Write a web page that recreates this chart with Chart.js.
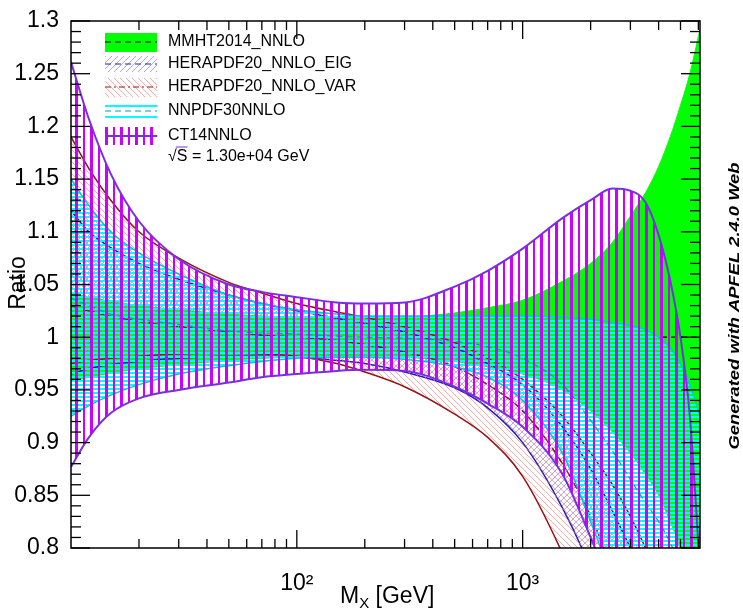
<!DOCTYPE html>
<html>
<head>
<meta charset="utf-8">
<script src="https://cdn.jsdelivr.net/npm/chart.js@4.4.1/dist/chart.umd.min.js"></script>
<style>
html,body{margin:0;padding:0;background:#fff;}
#wrap{width:743px;height:612px;position:relative;}
</style>
</head>
<body>
<div id="wrap"><canvas id="chart" width="743" height="612"></canvas></div>
<script>
// mass points (GeV) shared by all bands
const massGrid = [10, 12, 15, 20, 30, 50, 70, 100, 150, 200, 300, 500, 700, 1000, 1500, 2000, 2500, 3000, 3500, 4000, 4500, 5000, 5500, 6100];

const mmhtCentral = [1, 1, 1, 1, 1, 1, 1, 1, 1, 1, 1, 1, 1, 1, 1, 1, 1, 1, 1, 1, 1, 1, 1, 1];
const mmhtUpper = [1.042, 1.038, 1.034, 1.030, 1.026, 1.022, 1.020, 1.019, 1.018, 1.018, 1.019, 1.023, 1.028, 1.035, 1.053, 1.070, 1.090, 1.115, 1.137, 1.162, 1.190, 1.220, 1.250, 1.292];
const mmhtLower = [0.958, 0.962, 0.966, 0.970, 0.974, 0.978, 0.980, 0.981, 0.982, 0.982, 0.981, 0.977, 0.972, 0.965, 0.950, 0.930, 0.910, 0.890, 0.870, 0.850, 0.825, 0.800, 0.770, 0.740];

const herapdfCentral = [1.030, 1.025, 1.020, 1.015, 1.010, 1.005, 1.002, 1.000, 0.997, 0.993, 0.986, 0.972, 0.955, 0.930, 0.880, 0.830, 0.780, 0.740, 0.700, 0.670, 0.640, 0.610, 0.580, 0.550];
const eigUpper = [1.120, 1.100, 1.085, 1.070, 1.055, 1.040, 1.032, 1.025, 1.018, 1.013, 1.005, 0.990, 0.975, 0.955, 0.915, 0.875, 0.835, 0.800, 0.770, 0.740, 0.710, 0.680, 0.650, 0.620];
const eigLower = [0.965, 0.970, 0.974, 0.977, 0.980, 0.982, 0.982, 0.981, 0.978, 0.975, 0.967, 0.952, 0.933, 0.900, 0.838, 0.780, 0.720, 0.670, 0.630, 0.600, 0.570, 0.540, 0.510, 0.480];
const varUpper = [1.190, 1.160, 1.130, 1.100, 1.075, 1.052, 1.042, 1.032, 1.024, 1.019, 1.010, 0.995, 0.980, 0.960, 0.925, 0.890, 0.860, 0.830, 0.800, 0.770, 0.740, 0.710, 0.680, 0.650];
const varLower = [0.975, 0.978, 0.980, 0.982, 0.984, 0.985, 0.984, 0.982, 0.975, 0.967, 0.953, 0.927, 0.905, 0.868, 0.795, 0.730, 0.680, 0.640, 0.600, 0.570, 0.540, 0.510, 0.480, 0.450];

const nnpdfCentral = [1.037, 1.030, 1.022, 1.017, 1.012, 1.006, 1.004, 1.003, 1.001, 1.000, 0.999, 0.996, 0.991, 0.980, 0.955, 0.921, 0.892, 0.865, 0.843, 0.825, 0.805, 0.782, 0.757, 0.727];
const nnpdfUpper = [1.150, 1.125, 1.100, 1.080, 1.060, 1.040, 1.032, 1.026, 1.022, 1.020, 1.020, 1.020, 1.020, 1.020, 1.019, 1.017, 1.014, 1.011, 1.007, 1.000, 0.990, 0.975, 0.955, 0.925];
const nnpdfLower = [0.925, 0.935, 0.945, 0.955, 0.965, 0.973, 0.977, 0.980, 0.981, 0.981, 0.979, 0.972, 0.962, 0.940, 0.890, 0.825, 0.770, 0.720, 0.680, 0.650, 0.620, 0.590, 0.560, 0.530];

const ct14Upper = [1.261, 1.207, 1.155, 1.110, 1.074, 1.050, 1.043, 1.038, 1.033, 1.032, 1.033, 1.048, 1.063, 1.084, 1.113, 1.130, 1.141, 1.139, 1.128, 1.097, 1.054, 1.000, 0.925, 0.780];
const ct14Lower = [0.877, 0.905, 0.928, 0.942, 0.950, 0.957, 0.962, 0.965, 0.968, 0.969, 0.968, 0.953, 0.937, 0.915, 0.870, 0.810, 0.760, 0.720, 0.690, 0.660, 0.630, 0.600, 0.570, 0.540];

const xTicks = [100, 1000];
const xTickLabels = ['10\u00B2', '10\u00B3'];
const xMinorTicks = [20, 30, 40, 50, 60, 70, 80, 90, 200, 300, 400, 500, 600, 700, 800, 900, 2000, 3000, 4000, 5000, 6000];
const yTicks = [0.8, 0.85, 0.9, 0.95, 1, 1.05, 1.1, 1.15, 1.2, 1.25, 1.3];
const yTickLabels = ['0.8', '0.85', '0.9', '0.95', '1', '1.05', '1.1', '1.15', '1.2', '1.25', '1.3'];

const legendNames = ['MMHT2014_NNLO', 'HERAPDF20_NNLO_EIG', 'HERAPDF20_NNLO_VAR', 'NNPDF30NNLO', 'CT14NNLO'];
const energyLabel = '\u221AS = 1.30e+04 GeV';

const FONT = "'Liberation Sans', Arial, sans-serif";
const GREEN = 'rgb(0,255,0)';
const BLUE = 'rgb(30,30,190)';
const DARKRED = 'rgb(150,20,20)';
const CYAN = 'rgb(0,255,255)';
const TEAL = 'rgb(0,160,170)';
const MAGENTA = 'rgb(204,0,255)';
const PURPLE = 'rgb(125,45,225)';

const ctx = document.getElementById('chart').getContext('2d');

function hatch(w, h, fn) {
  const c = document.createElement('canvas');
  c.width = w; c.height = h;
  fn(c.getContext('2d'), w, h);
  return ctx.createPattern(c, 'repeat');
}

const ct14Fill = hatch(15, 4, (g, w, h) => {
  g.fillStyle = MAGENTA;
  g.fillRect(0, 0, 3, h);
  g.fillRect(8, 0, 2, h);
});
const nnpdfFill = hatch(4, 4, (g, w) => {
  g.fillStyle = CYAN;
  g.fillRect(0, 0, w, 2);
});
const eigFill = hatch(6, 6, g => {
  g.strokeStyle = 'rgba(110,110,255,0.6)';
  g.lineWidth = 1;
  g.beginPath();
  g.moveTo(-1, 7); g.lineTo(7, -1);
  g.moveTo(-1, 1); g.lineTo(1, -1);
  g.moveTo(5, 7); g.lineTo(7, 5);
  g.stroke();
});
const varFill = hatch(6, 6, g => {
  g.strokeStyle = 'rgba(255,110,110,0.6)';
  g.lineWidth = 1;
  g.beginPath();
  g.moveTo(-1, -1); g.lineTo(7, 7);
  g.moveTo(-1, 5); g.lineTo(1, 7);
  g.moveTo(5, -1); g.lineTo(7, 1);
  g.stroke();
});

function pts(values) {
  return massGrid.map((m, i) => ({ x: m, y: values[i] }));
}

function band(name, order, upper, lower, edge, width, fillStyle) {
  return [
    { label: name + ' up', data: pts(upper), borderColor: edge, borderWidth: width, fill: false, order: order },
    { label: name + ' down', data: pts(lower), borderColor: edge, borderWidth: width, backgroundColor: fillStyle, fill: '-1', order: order }
  ];
}

function central(name, order, values, color, dash) {
  return { label: name, data: pts(values), borderColor: color, borderWidth: 1.2, borderDash: dash, fill: false, order: order };
}

const datasets = [
  central('MMHT', 5, mmhtCentral, '#000', [6, 4]),
  ...band('MMHT', 5, mmhtUpper, mmhtLower, GREEN, 1, GREEN),
  central('EIG', 4, herapdfCentral, BLUE, [6, 4]),
  ...band('EIG', 4, eigUpper, eigLower, BLUE, 1.5, eigFill),
  central('VAR', 3, herapdfCentral, DARKRED, [6, 3, 2, 3]),
  ...band('VAR', 3, varUpper, varLower, DARKRED, 1.5, varFill),
  central('NNPDF', 2, nnpdfCentral, TEAL, [6, 4]),
  ...band('NNPDF', 2, nnpdfUpper, nnpdfLower, 'rgb(0,200,210)', 1.5, nnpdfFill),
  ...band('CT14', 1, ct14Upper, ct14Lower, PURPLE, 2, ct14Fill)
];

function line(c, x1, y1, x2, y2) {
  c.beginPath(); c.moveTo(x1, y1); c.lineTo(x2, y2); c.stroke();
}

const rootFrame = {
  id: 'rootFrame',
  afterDraw(chart) {
    const c = chart.ctx;
    const { left, right, top, bottom } = chart.chartArea;
    const xs = chart.scales.x, ys = chart.scales.y;
    c.save();
    c.strokeStyle = '#000';
    c.lineWidth = 1.5;
    c.strokeRect(left, top, right - left, bottom - top);

    // inner ticks on all four sides
    c.lineWidth = 1.3;
    for (let i = 0; i <= 50; i++) {
      const y = ys.getPixelForValue(0.8 + i * 0.01);
      const len = i % 5 === 0 ? 19 : 10;
      line(c, left, y, left + len, y);
      line(c, right, y, right - len, y);
    }
    xTicks.forEach(v => {
      const x = xs.getPixelForValue(v);
      line(c, x, bottom, x, bottom - 18);
      line(c, x, top, x, top + 18);
    });
    xMinorTicks.forEach(v => {
      const x = xs.getPixelForValue(v);
      line(c, x, bottom, x, bottom - 9);
      line(c, x, top, x, top + 9);
    });

    // axis titles
    c.fillStyle = '#000';
    c.font = '23px ' + FONT;
    c.textBaseline = 'alphabetic';
    c.textAlign = 'left';
    c.fillText('M', 340, 603);
    const mw = c.measureText('M').width;
    c.font = '15px ' + FONT;
    c.fillText('X', 340 + mw, 608);
    const xw = c.measureText('X').width;
    c.font = '23px ' + FONT;
    c.fillText(' [GeV]', 340 + mw + xw, 603);

    c.save();
    c.translate(25, 283);
    c.rotate(-Math.PI / 2);
    c.textAlign = 'center';
    c.fillText('Ratio', 0, 0);
    c.restore();

    c.save();
    c.translate(739, 306);
    c.rotate(-Math.PI / 2);
    c.textAlign = 'center';
    c.font = 'italic bold 15px ' + FONT;
    const tag = 'Generated with APFEL 2.4.0 Web';
    c.scale(287 / c.measureText(tag).width, 1);
    c.fillText(tag, 0, 0);
    c.restore();

    // legend
    const bx = 105, bw = 52;
    const rows = [42, 64, 87, 111, 136];
    // MMHT
    c.fillStyle = GREEN;
    c.fillRect(bx, 33, bw, 19);
    c.lineWidth = 1.2;
    c.strokeStyle = '#000';
    c.setLineDash([6, 4]);
    line(c, bx, rows[0], bx + bw, rows[0]);
    // EIG
    c.fillStyle = eigFill;
    c.fillRect(bx, 56, bw, 16);
    c.strokeStyle = BLUE;
    line(c, bx, rows[1], bx + bw, rows[1]);
    // VAR
    c.fillStyle = varFill;
    c.fillRect(bx, 78, bw, 19);
    c.strokeStyle = DARKRED;
    c.setLineDash([6, 3, 2, 3]);
    line(c, bx, rows[2], bx + bw, rows[2]);
    // NNPDF
    c.setLineDash([]);
    c.strokeStyle = CYAN;
    c.lineWidth = 2;
    line(c, bx, 106, bx + bw, 106);
    line(c, bx, 117, bx + bw, 117);
    c.strokeStyle = TEAL;
    c.lineWidth = 1.2;
    c.setLineDash([6, 4]);
    line(c, bx, rows[3], bx + bw, rows[3]);
    // CT14
    c.setLineDash([]);
    c.fillStyle = ct14Fill;
    c.fillRect(bx, 127, bw, 18);
    c.strokeStyle = PURPLE;
    c.lineWidth = 2;
    line(c, bx, rows[4], bx + bw, rows[4]);

    c.fillStyle = '#000';
    c.font = '16px ' + FONT;
    c.textAlign = 'left';
    c.textBaseline = 'middle';
    legendNames.forEach((name, i) => c.fillText(name, 168, rows[i]));
    c.fillText(energyLabel, 168, 157);
    const rw = c.measureText('\u221A').width;
    const sw = c.measureText('S').width;
    c.lineWidth = 1;
    line(c, 168 + rw - 1, 147, 168 + rw + sw, 147);
    c.restore();
  }
};

new Chart(ctx, {
  type: 'line',
  data: { datasets: datasets },
  plugins: [rootFrame],
  options: {
    responsive: false,
    animation: false,
    devicePixelRatio: 1,
    layout: { padding: { top: 21, right: 43, left: 0, bottom: 0 } },
    elements: {
      point: { radius: 0, hoverRadius: 0 },
      line: { cubicInterpolationMode: 'monotone' }
    },
    plugins: {
      legend: { display: false },
      tooltip: { enabled: false },
      filler: { propagate: false }
    },
    scales: {
      x: {
        type: 'logarithmic',
        min: 10,
        max: 6100,
        grid: { display: false },
        border: { display: false },
        afterBuildTicks: s => { s.ticks = xTicks.map(v => ({ value: v })); },
        afterFit: s => { s.height = 64; },
        ticks: {
          autoSkip: false,
          maxRotation: 0,
          padding: 14,
          color: '#000',
          font: { family: FONT, size: 23 },
          callback: (v, i) => xTickLabels[i]
        }
      },
      y: {
        type: 'linear',
        min: 0.8,
        max: 1.3,
        grid: { display: false },
        border: { display: false },
        afterBuildTicks: s => { s.ticks = yTicks.map(v => ({ value: v })); },
        afterFit: s => { s.width = 71; },
        ticks: {
          autoSkip: false,
          padding: 4,
          color: '#000',
          font: { family: FONT, size: 23 },
          callback: (v, i) => yTickLabels[i]
        }
      }
    }
  }
});
</script>
</body>
</html>
